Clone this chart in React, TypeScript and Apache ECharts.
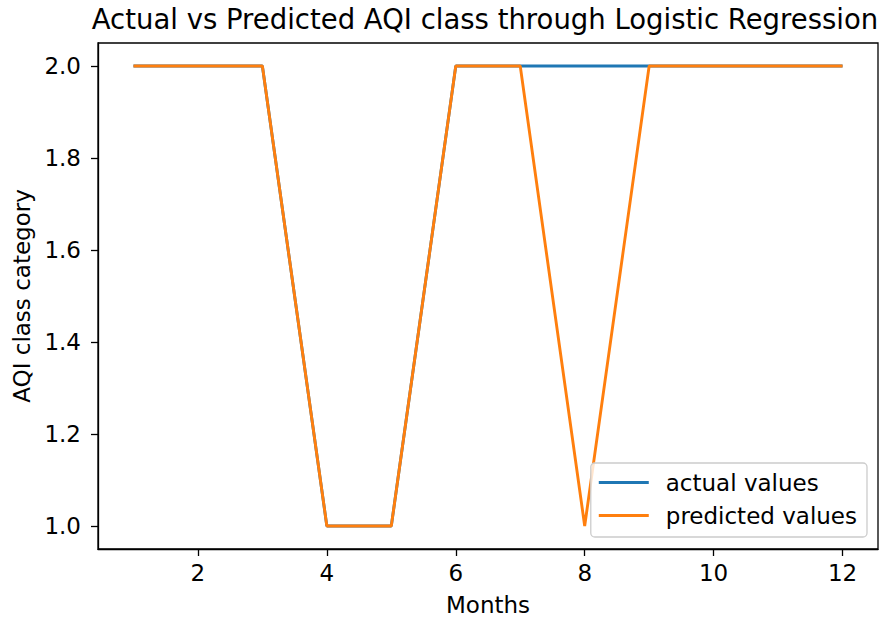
import React, { useEffect, useRef } from "react";
import * as echarts from "echarts";

const months = [1, 2, 3, 4, 5, 6, 7, 8, 9, 10, 11, 12];
const actualValues = [2, 2, 2, 1, 1, 2, 2, 2, 2, 2, 2, 2];
const predictedValues = [2, 2, 2, 1, 1, 2, 2, 1, 2, 2, 2, 2];
const xTicks = [2, 4, 6, 8, 10, 12];
const yTicks = [1.0, 1.2, 1.4, 1.6, 1.8, 2.0];

const FONT = "DejaVu Sans";
const FS = 23;

export default function App() {
  const ref = useRef<HTMLDivElement>(null);
  useEffect(() => {
    document.body.style.margin = "0";
    const chart = echarts.init(ref.current!, null, { renderer: "svg" });
    chart.setOption({
      animation: false,
      backgroundColor: "#fff",
      textStyle: { fontFamily: FONT },
      title: {
        text: "Actual vs Predicted AQI class through Logistic Regression",
        left: 480,
        textAlign: "center",
        top: 0,
        textStyle: { fontFamily: FONT, fontSize: 27.5, fontWeight: "normal", color: "#000" },
      },
      grid: {
        left: 98,
        right: 12,
        top: 43,
        bottom: 74,
        show: true,
        borderColor: "#000",
        borderWidth: 1.3,
        containLabel: false,
      },
      legend: {
        orient: "vertical",
        right: 23,
        bottom: 86,
        icon: "rect",
        itemWidth: 50,
        itemHeight: 3,
        itemGap: 10,
        padding: [8, 10, 10, 8],
        borderColor: "#cccccc",
        borderWidth: 1.3,
        borderRadius: 4,
        backgroundColor: "rgba(255,255,255,0.8)",
        textStyle: { fontFamily: FONT, fontSize: FS, color: "#000", padding: [0, 0, 0, 12] },
        data: ["actual values", "predicted values"],
      },
      xAxis: {
        type: "value",
        min: 0.45,
        max: 12.55,
        name: "Months",
        nameLocation: "middle",
        nameGap: 44,
        nameTextStyle: { fontFamily: FONT, fontSize: FS, color: "#000" },
        axisLine: { show: true, lineStyle: { color: "#000", width: 1.3 } },
        axisTick: { show: true, length: 7, customValues: xTicks, lineStyle: { color: "#000", width: 1.3 } },
        axisLabel: {
          customValues: xTicks,
          fontFamily: FONT,
          fontSize: FS,
          color: "#000",
          margin: 12,
          formatter: (v: number) => String(v),
        },
        splitLine: { show: false },
      },
      yAxis: {
        type: "value",
        min: 0.95,
        max: 2.05,
        name: "AQI class category",
        nameLocation: "middle",
        nameGap: 65,
        nameRotate: 90,
        nameTextStyle: { fontFamily: FONT, fontSize: FS, color: "#000" },
        axisLine: { show: true, lineStyle: { color: "#000", width: 1.3 } },
        axisTick: { show: true, length: 7, customValues: yTicks, lineStyle: { color: "#000", width: 1.3 } },
        axisLabel: {
          customValues: yTicks,
          fontFamily: FONT,
          fontSize: FS,
          color: "#000",
          margin: 17,
          formatter: (v: number) => v.toFixed(1),
        },
        splitLine: { show: false },
      },
      series: [
        {
          name: "actual values",
          type: "line",
          data: months.map((m, i) => [m, actualValues[i]]),
          showSymbol: false,
          symbol: "none",
          color: "#1f77b4",
          itemStyle: { color: "#1f77b4" },
          lineStyle: { width: 2.9, color: "#1f77b4" },
          z: 2,
        },
        {
          name: "predicted values",
          type: "line",
          data: months.map((m, i) => [m, predictedValues[i]]),
          showSymbol: false,
          symbol: "none",
          color: "#ff7f0e",
          itemStyle: { color: "#ff7f0e" },
          lineStyle: { width: 2.9, color: "#ff7f0e" },
          z: 3,
        },
      ],
    });
    return () => chart.dispose();
  }, []);
  return <div ref={ref} style={{ width: 890, height: 623 }} />;
}
